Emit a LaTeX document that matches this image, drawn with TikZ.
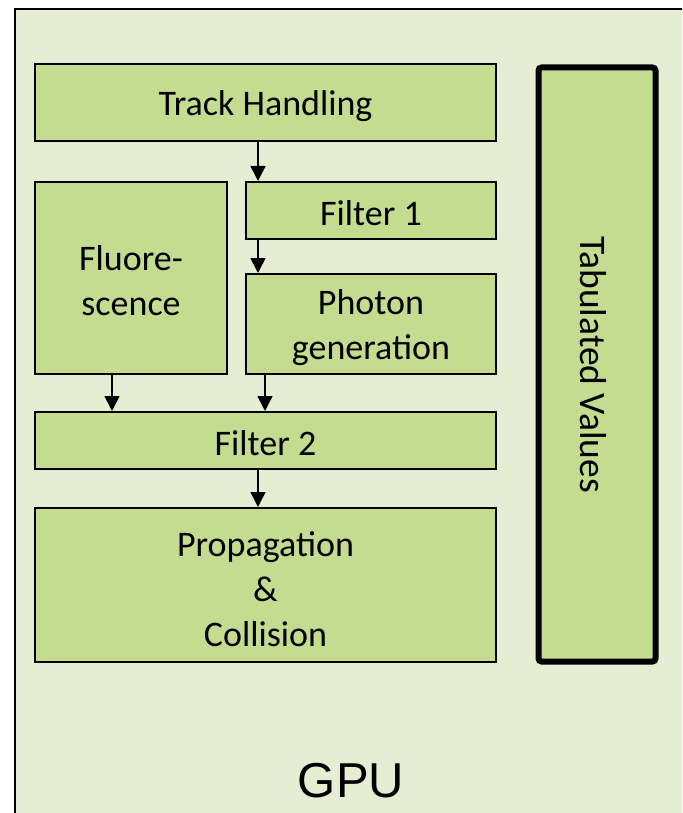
\documentclass[tikz,border=0pt]{standalone}
\usepackage{fontspec}
\setmainfont{Carlito}
\newfontfamily\gpufont{Liberation Sans}
\usetikzlibrary{arrows.meta}
\definecolor{gpubg}{HTML}{E5EED3}
\definecolor{boxfill}{HTML}{C4DC90}
\tikzset{
  blk/.style={draw=black, line width=2pt, fill=boxfill, rectangle, inner sep=0pt},
  lbl/.style={inner sep=0pt, align=center, font=\fontsize{36}{45}\selectfont},
  arr/.style={line width=1.6pt, -{Triangle[width=15pt,length=15pt]}},
}
\begin{document}
\begin{tikzpicture}[x=1pt,y=-1pt]
\useasboundingbox (0,0) rectangle (682,813);
\clip (0,0) rectangle (682,813);
\fill[white] (0,0) rectangle (682,813);
\draw[line width=2pt, fill=gpubg] (15,830) -- (15,9) -- (700,9) -- (700,830);
\node[blk, minimum width=461pt, minimum height=77pt] (th) at (265.5,102.5) {};
\node[blk, minimum width=250pt, minimum height=57pt] (f1) at (371,210.5) {};
\node[blk, minimum width=192pt, minimum height=192pt] (fl) at (131,278) {};
\node[blk, minimum width=250pt, minimum height=100pt] (pg) at (371,324) {};
\node[blk, minimum width=461pt, minimum height=57pt] (f2) at (265.5,440.5) {};
\node[blk, minimum width=461pt, minimum height=154pt] (pc) at (265.5,585) {};
\node[blk, line width=6pt, rounded corners=3pt, minimum width=117pt, minimum height=594pt] (tv) at (597,364.5) {};
\node[lbl] (tht) at ([yshift=-4pt]th.center) {Track Handling};
\node[lbl] (f1t) at ([yshift=-3pt]f1.center) {Filter 1};
\node[lbl] (flt) at ([yshift=-3pt]fl.center) {Fluore-\\scence};
\node[lbl] (pgt) at ([yshift=-4pt]pg.center) {Photon\\generation};
\node[lbl] (f2t) at ([yshift=-3pt]f2.center) {Filter 2};
\node[lbl] (pct) at ([yshift=-4pt]pc.center) {Propagation\\\&\\Collision};
\node[lbl, font=\fontsize{37.5}{45}\selectfont, rotate=-90] (tvt) at ([xshift=-4pt]tv.center) {Tabulated Values};
\node[font=\gpufont\fontsize{49}{55}\selectfont, inner sep=0pt] (gpu) at (351,781) {GPU};
\coordinate (xa) at (258,0);
\coordinate (xb) at (112,0);
\coordinate (xc) at (265,0);
\draw[arr] (th.south -| xa) -- (f1.north -| xa);
\draw[arr] (f1.south -| xa) -- (pg.north -| xa);
\draw[arr] (fl.south -| xb) -- (f2.north -| xb);
\draw[arr] (pg.south -| xc) -- (f2.north -| xc);
\draw[arr] (f2.south -| xa) -- (pc.north -| xa);
\end{tikzpicture}
\end{document}
